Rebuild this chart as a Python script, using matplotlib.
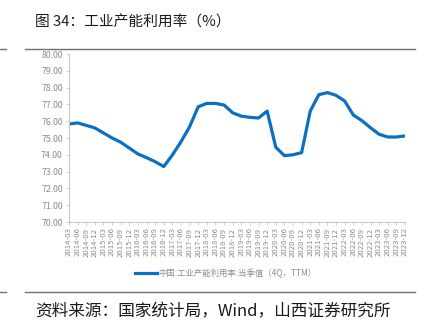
import matplotlib
matplotlib.use("Agg")
from matplotlib import pyplot as plt
from matplotlib.lines import Line2D

plt.rcParams['font.family'] = ['Noto Sans CJK SC', 'DejaVu Sans']

# quarterly capacity utilization, 4Q trailing average
quarters = [f"{y}-{m}" for y in range(2014, 2024) for m in ("03", "06", "09", "12")]
utilization = [
    75.83, 75.90, 75.75, 75.60,
    75.30, 75.00, 74.75, 74.40,
    74.05, 73.83, 73.59, 73.30,
    73.99, 74.78, 75.67, 76.86,
    77.06, 77.06, 76.96, 76.50,
    76.30, 76.23, 76.19, 76.60,
    74.45, 73.95, 74.00, 74.13,
    76.60, 77.58, 77.70, 77.54,
    77.20, 76.37, 76.03, 75.61,
    75.22, 75.06, 75.06, 75.12,
]
series_name = "中国:工业产能利用率:当季值（4Q，TTM）"
title = "图 34：工业产能利用率（%）"
source = "资料来源：国家统计局，Wind，山西证券研究所"

W, H = 428, 336
fig = plt.figure(figsize=(W / 100, H / 100), dpi=100)

def fx(px):
    return px / W

def fy(py):
    return 1 - py / H

ax = fig.add_axes([fx(69), fy(222), fx(405) - fx(69), fy(54) - fy(222)])
xs = list(range(len(quarters)))
line, = ax.plot(xs, utilization, color="#0B6FC2", lw=2.3, solid_joinstyle="round")

ax.set_ylim(70, 80)
ax.set_yticks([70 + i for i in range(11)])
ax.set_yticklabels([f"{70 + i:.2f}" for i in range(11)])
ax.set_xlim(0, len(quarters) - 1)
ax.set_xticks(xs)
ax.set_xticklabels(quarters, rotation=90)

grey = "#8C8C8C"
for side in ("top", "right"):
    ax.spines[side].set_visible(False)
for side in ("left", "bottom"):
    ax.spines[side].set_color("#C8C8C8")
    ax.spines[side].set_linewidth(0.8)
ax.tick_params(axis="y", length=2.5, width=0.6, color="#C8C8C8", labelsize=6.3, labelcolor=grey, pad=2)
ax.tick_params(axis="x", length=2.5, width=0.6, color="#C8C8C8", labelsize=5.6, labelcolor=grey, pad=1.5)

# legend drawn below the tick labels
fig.legend([line], [series_name], loc="center left", bbox_to_anchor=(fx(135), fy(273)),
           frameon=False, fontsize=6, labelcolor=grey, handlelength=2.6,
           handletextpad=0.2, borderpad=0, borderaxespad=0)

# header / footer rules
rule = "#6E6E6E"
for py in (49, 292):
    fig.add_artist(Line2D([fx(25), fx(415)], [fy(py), fy(py)], color=rule, lw=1.0))
    fig.add_artist(Line2D([fx(0), fx(6)], [fy(py), fy(py)], color=rule, lw=1.0))

fig.text(fx(35), fy(22), title, fontsize=10.6, color="#1A1A1A", va="center", ha="left")
fig.text(fx(35), fy(312), source, fontsize=12, color="#1A1A1A", va="center", ha="left")

fig.savefig("out.png", dpi=100)
